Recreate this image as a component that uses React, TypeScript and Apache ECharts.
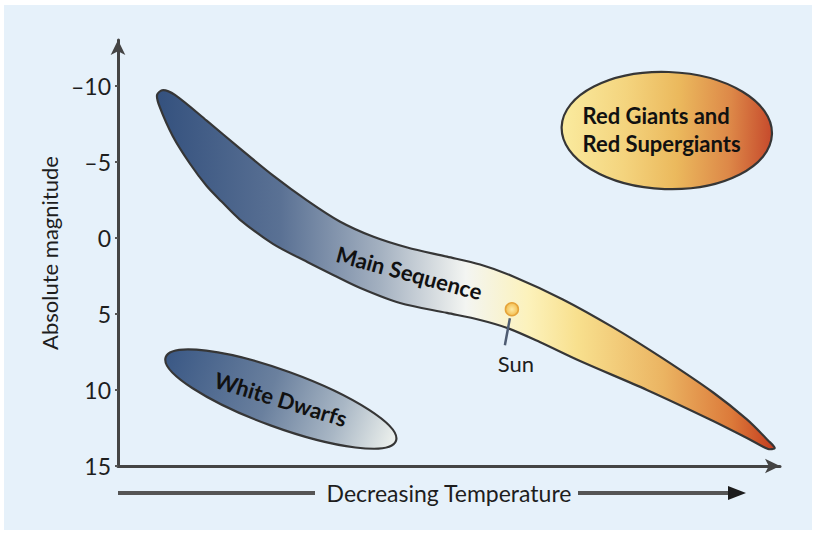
import React, { useEffect, useRef } from "react";
import * as echarts from "echarts";

// Absolute magnitude ticks (bright stars at the top)
const magnitudeTicks = [-10, -5, 0, 5, 10, 15];

// Main-sequence band outline as [temperature index, absolute magnitude].
// Upper edge runs hot -> cool, lower edge comes back cool -> hot.
const mainSeqUpper = [
  [5.9, -9.39], [6.8, -9.71], [8.6, -9.39], [13.4, -7.7], [18.4, -5.88],
  [23.4, -4.1], [28.6, -2.44], [33.5, -1.07], [38.5, -0.08], [43.7, 0.64],
  [49.7, 1.24], [54.7, 1.76], [59.7, 2.54], [67.2, 4.05], [74.8, 5.89],
  [82.3, 7.93], [89.9, 10.17], [95.0, 11.94], [98.2, 13.32], [99.2, 13.82],
];
const mainSeqLower = [
  [98.2, 13.88], [95.0, 13.16], [89.9, 12.04], [79.9, 10.0], [69.8, 8.1],
  [63.7, 6.85], [58.8, 5.93], [54.7, 5.4], [49.7, 4.94], [42.6, 4.29],
  [36.6, 3.3], [32.5, 2.44], [28.6, 1.59], [23.4, 0.4], [18.4, -1.2],
  [15.6, -2.4], [13.4, -3.4], [10.9, -4.85], [8.3, -6.66], [6.3, -8.6],
];
const mainSeqLabelAt = [44.0, 2.3];

// Other star groups: centre and half-extent along the (tilted) ellipse axes
const regionNames = ["White Dwarfs", "Red Giants and\nRed Supergiants"];
const regionCenters = [[24.6, 10.6], [82.9, -7.05]];
const regionHalfExtents = [[18.5, 1.86], [15.9, 3.85]];

// The Sun
const sunPoint = [59.5, 4.7];

const FONT = "Lato, 'Open Sans', sans-serif";
const deg = (d: number) => (d * Math.PI) / 180;

const regionTilt = [deg(-20), deg(-2)];
const regionLabelTilt = [deg(3), deg(2)];

const outline = "#363636";

const mainSeqFill = () =>
  new echarts.graphic.LinearGradient(0, 0, 1, 0, [
    { offset: 0, color: "#34517e" },
    { offset: 0.2, color: "#5a7194" },
    { offset: 0.36, color: "#a3b0c0" },
    { offset: 0.5, color: "#f3f5f2" },
    { offset: 0.6, color: "#fcf2bc" },
    { offset: 0.68, color: "#f8e08e" },
    { offset: 0.82, color: "#ebb462" },
    { offset: 0.93, color: "#dc7a3a" },
    { offset: 1, color: "#c43c1f" },
  ]);

const regionFills = () => [
  new echarts.graphic.LinearGradient(0, 0, 1, 0, [
    { offset: 0, color: "#3a5885" },
    { offset: 0.45, color: "#6a809e" },
    { offset: 0.75, color: "#a9b7c5" },
    { offset: 1, color: "#eef2ee" },
  ]),
  new echarts.graphic.LinearGradient(0, 0, 1, 0, [
    { offset: 0, color: "#faeb9f" },
    { offset: 0.3, color: "#f4d47e" },
    { offset: 0.55, color: "#ebb95d" },
    { offset: 0.8, color: "#dd8848" },
    { offset: 1, color: "#c64a2c" },
  ]),
];

export default function App() {
  const ref = useRef<HTMLDivElement>(null);

  useEffect(() => {
    if (!ref.current) return;
    const chart = echarts.init(ref.current, undefined, { renderer: "svg" });
    const fills = regionFills();

    const option: any = {
      animation: false,
      backgroundColor: "#ffffff",
      grid: { left: 118, right: 34, top: 40, bottom: 69 },
      xAxis: {
        type: "value",
        min: 0,
        max: 100,
        axisLine: {
          show: true,
          onZero: false,
          symbol: ["none", "arrow"],
          symbolSize: [11, 15],
          lineStyle: { color: "#444", width: 3 },
        },
        axisTick: { show: false },
        axisLabel: { show: false },
        splitLine: { show: false },
        name: "Decreasing Temperature",
        nameLocation: "middle",
        nameGap: 15,
        nameTextStyle: { fontFamily: FONT, fontSize: 23, color: "#1e1e1e" },
      },
      yAxis: {
        type: "value",
        inverse: true,
        min: -13,
        max: 15,
        axisLine: {
          show: true,
          onZero: false,
          symbol: ["none", "arrow"],
          symbolSize: [11, 15],
          lineStyle: { color: "#444", width: 3 },
        },
        axisTick: {
          show: true,
          customValues: magnitudeTicks,
          length: 3,
          lineStyle: { color: "#555", width: 2 },
        },
        axisLabel: {
          customValues: magnitudeTicks,
          formatter: (v: number) => (v < 0 ? "\u2013" + Math.abs(v) : String(v)),
          fontFamily: FONT,
          fontSize: 23,
          color: "#1e1e1e",
          margin: 7,
        },
        splitLine: { show: false },
        name: "Absolute magnitude",
        nameLocation: "middle",
        nameGap: 45,
        nameTextStyle: { fontFamily: FONT, fontSize: 22, color: "#1e1e1e" },
      },
      graphic: [
        {
          type: "rect",
          z: -100,
          silent: true,
          shape: { x: 4, y: 5, width: 808, height: 525 },
          style: { fill: "#e6f1fa" },
        },
        {
          type: "line",
          silent: true,
          shape: { x1: 118, y1: 493, x2: 315, y2: 493 },
          style: { stroke: "#555", lineWidth: 4 },
        },
        {
          type: "line",
          silent: true,
          shape: { x1: 578, y1: 493, x2: 732, y2: 493 },
          style: { stroke: "#555", lineWidth: 4 },
        },
        {
          type: "polygon",
          silent: true,
          shape: { points: [[728, 486], [746, 493], [728, 500]] },
          style: { fill: "#1c1c1c" },
        },
      ],
      series: [
        {
          type: "custom",
          name: "Main Sequence",
          data: [mainSeqLabelAt],
          silent: true,
          renderItem: (_params: any, api: any) => {
            const pts = [...mainSeqUpper, ...mainSeqLower].map((p) => api.coord(p));
            const lp = api.coord(mainSeqLabelAt);
            return {
              type: "group",
              children: [
                {
                  type: "polygon",
                  shape: { points: pts, smooth: 0.3 },
                  style: { fill: mainSeqFill(), stroke: outline, lineWidth: 2.2 },
                },
                {
                  type: "text",
                  x: lp[0],
                  y: lp[1],
                  rotation: deg(-15),
                  style: {
                    text: "Main Sequence",
                    fontFamily: FONT,
                    fontWeight: "bold",
                    fontSize: 22,
                    fill: "#111",
                    align: "center",
                    verticalAlign: "middle",
                  },
                },
              ],
            };
          },
        },
        {
          type: "custom",
          name: "Star groups",
          silent: true,
          data: regionCenters.map((c, i) => [c[0], c[1], regionHalfExtents[i][0], regionHalfExtents[i][1]]),
          renderItem: (params: any, api: any) => {
            const i = params.dataIndex;
            const c = api.coord([api.value(0), api.value(1)]);
            const s = api.size([api.value(2), api.value(3)]);
            const leftAligned = i === 1;
            return {
              type: "group",
              x: c[0],
              y: c[1],
              rotation: regionTilt[i],
              children: [
                {
                  type: "ellipse",
                  shape: { cx: 0, cy: 0, rx: s[0], ry: s[1] },
                  style: { fill: fills[i], stroke: outline, lineWidth: 2.2 },
                },
                {
                  type: "text",
                  x: leftAligned ? -s[0] * 0.8 : 0,
                  y: leftAligned ? 2 : 0,
                  rotation: regionLabelTilt[i],
                  style: {
                    text: regionNames[i],
                    fontFamily: FONT,
                    fontWeight: "bold",
                    fontSize: 22,
                    lineHeight: 28,
                    fill: "#111",
                    align: leftAligned ? "left" : "center",
                    verticalAlign: "middle",
                  },
                },
              ],
            };
          },
        },
        {
          type: "custom",
          name: "Sun",
          silent: true,
          data: [sunPoint],
          renderItem: (_params: any, api: any) => {
            const c = api.coord([api.value(0), api.value(1)]);
            return {
              type: "group",
              x: c[0],
              y: c[1],
              children: [
                {
                  type: "line",
                  shape: { x1: -2, y1: 9, x2: -7, y2: 36 },
                  style: { stroke: "#4e5c72", lineWidth: 2.5 },
                },
                {
                  type: "circle",
                  shape: { cx: 0, cy: 0, r: 6.5 },
                  style: {
                    fill: new echarts.graphic.RadialGradient(0.5, 0.5, 0.6, [
                      { offset: 0, color: "#fde9a4" },
                      { offset: 1, color: "#f1b53e" },
                    ]),
                    stroke: "#e5a33a",
                    lineWidth: 1.5,
                  },
                },
                {
                  type: "text",
                  x: 4,
                  y: 54,
                  style: {
                    text: "Sun",
                    fontFamily: FONT,
                    fontSize: 22,
                    fill: "#1e1e1e",
                    align: "center",
                    verticalAlign: "middle",
                  },
                },
              ],
            };
          },
        },
      ],
    };

    chart.setOption(option);
    return () => chart.dispose();
  }, []);

  return (
    <div
      ref={ref}
      style={{ position: "absolute", left: 0, top: 0, width: 814, height: 535 }}
    />
  );
}
